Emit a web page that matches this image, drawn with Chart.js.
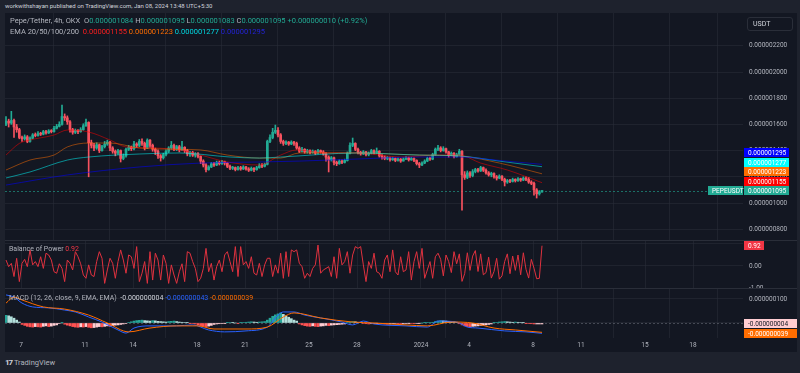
<!DOCTYPE html>
<html>
<head>
<meta charset="utf-8">
<script src="https://cdn.jsdelivr.net/npm/chart.js@4.4.0/dist/chart.umd.min.js"></script>
<style>
body{margin:0;width:800px;height:373px;background:#1e222d;overflow:hidden;position:relative;font-family:Roboto,"Liberation Sans",sans-serif;}
.abs{position:absolute;white-space:nowrap;line-height:8px;font-size:7px;color:#b2b5be;}
canvas{position:absolute;left:5px;}
.sep{position:absolute;left:5px;width:792px;height:1px;background:#2a2e39;}
</style>
</head>
<body>
<div class="abs" style="left:5px;top:2px;font-size:6px;color:#d1d4dc">workwithshayan published on TradingView.com, Jan 08, 2024 13:48 UTC+5:30</div>
<div style="position:absolute;left:5px;top:13px;width:792px;height:339px;background:#131722"></div>

<canvas id="price" width="792" height="227" style="top:13px"></canvas>
<canvas id="bop" width="792" height="48" style="top:240px"></canvas>
<canvas id="macd" width="792" height="64" style="top:288px"></canvas>
<div class="sep" style="top:240px"></div>
<div class="sep" style="top:288px"></div>

<div class="abs" style="left:10px;top:17px;font-size:7.5px">Pepe/Tether, 4h, OKX&nbsp; O<span style="color:#22ab94">0.000001084</span> H<span style="color:#22ab94">0.000001095</span> L<span style="color:#22ab94">0.000001083</span> C<span style="color:#22ab94">0.000001095</span> <span style="color:#22ab94">+0.000000010 (+0.92%)</span></div>
<div class="abs" style="left:10px;top:28px;font-size:7.5px">EMA 20/50/100/200&nbsp; <span style="color:#ff1f1f">0.000001155</span> <span style="color:#ff6d00">0.000001223</span> <span style="color:#00d8e0">0.000001277</span> <span style="color:#2323d8">0.000001295</span></div>
<div class="abs" style="left:9px;top:245px">Balance of Power <span style="color:#f23645">0.92</span></div>
<div class="abs" style="left:9px;top:294px">MACD (12, 26, close, 9, EMA, EMA)&nbsp; <span style="color:#d1d4dc">-0.000000004</span> <span style="color:#2962ff">-0.000000043</span> <span style="color:#ff6d00">-0.000000039</span></div>
<div class="abs" style="left:747px;top:17px;width:39px;height:12px;line-height:12px;border:1px solid #2a2e39;border-radius:3px;padding-left:5px;color:#d1d4dc">USDT</div>
<div class="abs" style="left:5px;top:359px;font-size:7.5px;color:#b2b5be"><b style="color:#d1d4dc;font-size:8px;letter-spacing:-1px">17</b> TradingView</div>

<script>
// PEPE/USDT 4h candles (OKX). prices in 1e-9 USDT
const tickDays   = [0, 4, 7, 11, 14, 18, 21, 25, 28, 32, 35, 39, 42]; // days after Dec 7 00:00
const tickLabels = ['7', '11', '14', '18', '21', '25', '28', '2024', '4', '8', '11', '15', '18'];
const priceTicks = [800, 1000, 1200, 1400, 1600, 1800, 2000, 2200];
const bopTicks = [-1, 0, 1];
const macdTicks = [0, 100];

const firstCandleDay = -0.9375;   // Dec 6 01:30
const candleDays = 4 / 24;

const firstOpen = 1600;
const closes = [
  1625,1610,1630,1580,1560,1500,1490,1505,1470,1495,
  1520,1515,1530,1525,1545,1535,1550,1545,1570,1585,
  1600,1660,1650,1620,1560,1540,1555,1545,1560,1590,
  1615,1460,1440,1420,1445,1400,1430,1450,1465,1420,
  1395,1380,1400,1340,1360,1410,1425,1415,1450,1440,
  1470,1455,1420,1480,1440,1410,1395,1360,1345,1370,
  1395,1420,1440,1410,1430,1405,1425,1400,1375,1385,
  1365,1375,1355,1320,1290,1255,1275,1300,1290,1310,
  1300,1315,1305,1280,1265,1270,1255,1270,1260,1275,
  1260,1250,1265,1255,1270,1285,1280,1295,1470,1500,
  1540,1555,1520,1470,1455,1465,1450,1465,1455,1420,
  1395,1410,1390,1400,1385,1395,1380,1400,1390,1375,
  1350,1330,1345,1310,1300,1320,1310,1325,1380,1440,
  1455,1410,1385,1375,1390,1370,1380,1400,1385,1395,
  1360,1350,1340,1345,1330,1340,1325,1335,1320,1335,
  1345,1330,1340,1325,1300,1290,1305,1320,1340,1335,
  1370,1410,1420,1400,1415,1390,1365,1380,1355,1370,
  1395,1215,1195,1230,1210,1240,1255,1245,1270,1250,
  1230,1215,1225,1200,1190,1205,1180,1160,1170,1165,
  1180,1170,1185,1175,1190,1180,1160,1150,1100,1070,
  1084,1095
];
const highs = [
  1660,1640,1700,1640,1600,1570,1510,1520,1515,1505,
  1530,1535,1545,1540,1555,1555,1560,1560,1585,1600,
  1620,1748,1680,1665,1630,1570,1565,1560,1575,1605,
  1640,1620,1480,1455,1460,1450,1440,1470,1480,1470,
  1430,1405,1410,1405,1375,1420,1440,1435,1470,1460,
  1485,1490,1465,1490,1485,1450,1420,1405,1370,1380,
  1405,1430,1470,1450,1440,1440,1470,1430,1410,1395,
  1395,1385,1385,1360,1330,1300,1285,1310,1310,1320,
  1320,1325,1320,1310,1290,1280,1275,1280,1280,1285,
  1280,1270,1275,1270,1280,1300,1300,1305,1480,1520,
  1570,1595,1575,1530,1480,1475,1470,1475,1470,1465,
  1430,1425,1415,1410,1405,1405,1400,1410,1405,1400,
  1385,1360,1355,1350,1320,1330,1330,1335,1390,1460,
  1496,1460,1420,1395,1400,1395,1390,1410,1405,1420,
  1400,1370,1360,1355,1350,1350,1345,1345,1340,1345,
  1355,1350,1350,1345,1330,1310,1315,1330,1350,1350,
  1380,1420,1440,1430,1430,1420,1395,1390,1385,1380,
  1410,1400,1240,1245,1240,1255,1265,1265,1280,1275,
  1260,1240,1235,1230,1210,1215,1210,1190,1180,1180,
  1190,1185,1195,1190,1200,1200,1195,1170,1160,1110,
  1095,1095
];
const lows = [
  1590,1580,1600,1500,1540,1490,1470,1480,1460,1465,
  1490,1505,1510,1515,1520,1525,1530,1535,1540,1565,
  1580,1595,1630,1600,1540,1525,1530,1530,1540,1555,
  1585,1200,1420,1400,1410,1385,1395,1420,1440,1400,
  1380,1360,1370,1313,1330,1350,1400,1400,1405,1425,
  1430,1440,1405,1415,1425,1395,1370,1340,1320,1335,
  1360,1385,1410,1400,1400,1390,1400,1385,1360,1355,
  1355,1350,1345,1300,1275,1237,1250,1270,1280,1285,
  1290,1295,1290,1270,1255,1255,1245,1250,1250,1255,
  1250,1240,1245,1240,1250,1265,1270,1275,1290,1460,
  1490,1530,1505,1455,1440,1445,1440,1445,1440,1410,
  1385,1390,1380,1380,1375,1380,1370,1375,1380,1365,
  1320,1237,1320,1290,1285,1295,1300,1305,1320,1375,
  1430,1400,1375,1365,1370,1360,1360,1375,1375,1380,
  1350,1335,1330,1330,1320,1325,1315,1320,1310,1320,
  1330,1320,1325,1315,1290,1270,1285,1300,1315,1325,
  1330,1365,1400,1390,1395,1380,1350,1360,1345,1350,
  1365,945,1180,1185,1195,1200,1230,1235,1240,1240,
  1220,1205,1200,1190,1175,1185,1170,1130,1150,1155,
  1160,1160,1165,1165,1170,1170,1150,1140,1060,1038,
  1060,1083
];

// EMA lines: [candle index, value]
const ema20 = [[0,1366],[5,1455],[9,1481],[18,1519],[23,1557],[31,1542],[39,1481],[45,1428],[55,1420],[65,1405],[73,1366],[83,1313],[95,1290],[103,1366],[109,1405],[120,1382],[132,1382],[148,1351],[162,1366],[170,1366],[178,1305],[188,1252],[201,1155]];
const ema50 = [[0,1252],[9,1328],[18,1366],[23,1428],[31,1458],[39,1458],[50,1420],[65,1410],[73,1405],[83,1366],[95,1343],[103,1343],[110,1382],[132,1382],[155,1366],[170,1359],[185,1305],[201,1223]];
const ema100 = [[0,1191],[9,1237],[23,1328],[31,1351],[50,1374],[65,1382],[84,1351],[95,1343],[103,1351],[132,1382],[155,1366],[170,1359],[185,1320],[201,1277]];
const ema200 = [[0,1137],[23,1214],[50,1275],[73,1305],[95,1313],[110,1320],[132,1336],[155,1351],[170,1351],[185,1325],[201,1295]];

// Balance of Power, one value per candle
const bop = [
  .27,-.03,.12,-.48,.35,-.71,.12,.30,-.03,.73,
  .05,.20,-.03,.42,-.11,.58,.50,.27,-.26,-.33,
  .10,-.11,-.71,.27,.12,-.18,.65,.42,.10,-.41,
  -.56,.05,-.41,-.48,.20,.65,.35,-.79,-.18,.35,
  .12,-.56,.20,.73,.27,-.33,.50,.42,-.11,.88,
  -.71,-.33,.20,-.79,.65,-.64,.58,.27,-.64,.50,
  .12,-.79,.05,-.41,-.79,-.26,.10,-.71,.65,.58,
  .20,-.11,-.71,-.56,-.11,.80,-.26,.12,-.64,-.03,
  .27,-.26,.50,.65,.20,-.26,.88,-.48,.88,.05,
  .20,-.11,.42,-.33,-.41,.12,-.48,.05,.35,.35,
  -.48,.05,-.33,.58,-.56,.65,-.48,.73,.65,.73,
  .12,-.03,-.56,-.33,-.48,-.11,.05,.95,-.33,-.18,
  -.11,-.03,-.48,.42,-.56,.80,.05,.20,.65,-.33,
  .50,.88,.80,.88,.05,-.71,.20,-.11,.58,-.26,
  -.33,-.56,.27,.50,-.26,.73,-.26,-.41,.42,-.26,
  -.18,.65,-.64,.20,.65,-.11,.80,-.56,-.18,.20,
  -.56,.42,.58,.30,-.45,.50,.20,-.30,.65,.10,
  .55,-.70,-.35,.60,-.20,.45,.70,-.25,.55,-.40,
  -.30,.40,-.55,-.25,.35,-.60,-.45,.20,.55,-.35,
  .45,-.20,.50,-.40,.60,-.15,-.55,.30,-.10,-.58,
  -.56,.92
];

// MACD (1e-9): lines [candle index, value], histogram per candle
const macdLine = [[0,117],[3,108],[6,83],[10,67],[16,63],[22,54],[26,46],[31,25],[36,4],[42,-29],[45,-42],[48,-21],[54,-12],[64,-12],[70,-8],[76,-29],[82,-37],[90,-33],[98,-17],[102,33],[104,46],[108,46],[112,33],[118,21],[126,4],[130,-8],[134,8],[138,-4],[150,-12],[158,-17],[162,8],[169,4],[173,-17],[177,-21],[187,-33],[195,-37],[201,-43]];
const signalLine = [[0,83],[3,108],[6,96],[14,67],[22,58],[31,33],[38,0],[46,-37],[54,-21],[64,-12],[72,-12],[78,-25],[90,-25],[98,-17],[104,25],[108,42],[118,21],[130,4],[138,0],[150,-8],[158,-12],[167,4],[175,0],[183,-21],[191,-29],[201,-39]];
const hist = [
  32,30,26,20,12,4,
  -6,-10,-14,-16,-17,-15,-16,-17,-14,-12,-15,-13,-10,-8,
  -2,1,
  -5,-9,-12,-15,-17,-18,-16,-17,-15,-18,-20,-19,-17,-15,-16,-14,-12,-14,-11,-9,
  -8,-6,-4,-2,2,5,
  8,10,11,12,10,9,8,10,9,7,6,5,4,6,7,8,6,4,
  3,2,1,-1,-2,-4,
  -8,-11,-14,-15,-13,-10,
  -6,-4,-3,-2,-1,1,2,1,0,-1,1,
  2,3,4,5,4,3,4,5,6,
  12,20,28,34,38,42,36,
  30,24,18,12,8,
  -4,-8,-11,-13,-14,-12,-14,-15,-13,-12,-10,-11,-9,-8,-7,-6,-5,-4,
  2,4,6,5,3,2,
  -2,-3,-4,-3,-2,-1,-2,-3,-4,-5,-4,-3,-2,-3,-4,-3,-2,-1,-2,-3,-2,-1,0,1,2,2,
  3,6,8,10,9,8,7,6,5,3,
  -3,-8,-12,-15,-16,-14,-13,-12,-10,-9,-8,-6,-4,
  1,2,4,5,6,5,4,3,4,3,2,1,
  -1,-2,-3,-4,-4,-4,-4
];

const UP = '#22ab94', DOWN = '#f7525f';
const gridColor = 'rgba(42,46,57,0.55)';
const FONT = 'Roboto, "Liberation Sans", sans-serif';
Chart.defaults.font.family = FONT;
Chart.defaults.color = '#b2b5be';

const t = i => firstCandleDay + i * candleDays;
const opens = [firstOpen].concat(closes.slice(0, -1));
const last = closes.length - 1;
const fmt = v => (v * 1e-9).toFixed(9);
const pts = arr => arr.map(p => ({x: t(p[0]), y: p[1]}));

function noPad(s) { s.paddingTop = 0; s.paddingBottom = 0; s.paddingLeft = 0; s.paddingRight = 0; }

function xAxis(showLabels) {
  return {
    type: 'linear', min: -1, max: 45.125, offset: false,
    afterBuildTicks: s => { s.ticks = tickDays.map(v => ({value: v})); },
    ticks: { display: showLabels, autoSkip: false, maxRotation: 0, padding: 3,
             font: {size: 6.5}, callback: v => tickLabels[tickDays.indexOf(v)] },
    grid: { color: gridColor, drawTicks: false },
    border: { display: false },
    afterFit: s => { s.height = showLabels ? 14 : 0; noPad(s); }
  };
}
function yAxis(min, max, ticks, label) {
  return {
    position: 'right', min: min, max: max,
    afterBuildTicks: s => { s.ticks = ticks.map(v => ({value: v})); },
    ticks: { padding: 6, font: {size: 6.5}, callback: label },
    grid: { color: gridColor, drawTicks: false },
    border: { display: false },
    afterFit: s => { s.width = 54; noPad(s); }
  };
}
function tag(ctx, x, yc, w, bg, fg, text) {
  ctx.fillStyle = bg;
  ctx.fillRect(x, Math.round(yc - 4.5), w, 9);
  ctx.fillStyle = fg;
  ctx.font = '6.5px ' + FONT;
  ctx.textAlign = 'left';
  ctx.textBaseline = 'middle';
  ctx.fillText(text, x + 4, Math.round(yc - 4.5) + 5);
}
const base = {
  responsive: false, animation: false, events: [],
  layout: { padding: 0 },
  plugins: { legend: {display: false}, tooltip: {enabled: false} }
};

// ---- price pane
const lastPriceLine = {
  id: 'lastPriceLine',
  beforeDatasetsDraw(chart) {
    const {ctx, chartArea} = chart;
    const y = Math.round(chart.scales.y.getPixelForValue(closes[last])) + 0.5;
    ctx.save();
    ctx.strokeStyle = 'rgba(34,171,148,0.6)';
    ctx.setLineDash([2, 2]);
    ctx.beginPath(); ctx.moveTo(chartArea.left, y); ctx.lineTo(chartArea.right, y); ctx.stroke();
    ctx.restore();
  },
  afterDraw(chart) {
    const {ctx, chartArea} = chart;
    const y = chart.scales.y.getPixelForValue(closes[last]);
    const tags = [
      [closes[last], UP],
      [ema20[ema20.length - 1][1], '#ff0000'],
      [ema50[ema50.length - 1][1], '#ff6d00'],
      [ema100[ema100.length - 1][1], '#00ffff'],
      [ema200[ema200.length - 1][1], '#0000ff']
    ];
    ctx.save();
    tags.forEach((g, k) => tag(ctx, chartArea.right + 1, y - k * 9.5, 45, g[1], '#ffffff', fmt(g[0])));
    tag(ctx, chartArea.right - 35, y, 35, UP, '#ffffff', 'PEPEUSDT');
    ctx.restore();
  }
};

new Chart(document.getElementById('price'), {
  type: 'line',
  data: {
    datasets: [
      { type: 'line', data: pts(ema200), borderColor: 'rgba(0,0,255,0.55)', borderWidth: 1, pointRadius: 0, cubicInterpolationMode: 'monotone' },
      { type: 'line', data: pts(ema100), borderColor: 'rgba(0,255,255,0.5)', borderWidth: 1, pointRadius: 0, cubicInterpolationMode: 'monotone' },
      { type: 'line', data: pts(ema50), borderColor: 'rgba(255,109,0,0.5)', borderWidth: 1, pointRadius: 0, cubicInterpolationMode: 'monotone' },
      { type: 'line', data: pts(ema20), borderColor: 'rgba(255,0,0,0.5)', borderWidth: 1, pointRadius: 0, cubicInterpolationMode: 'monotone' },
      { type: 'bar', grouped: false, barThickness: 1,
        data: closes.map((c, i) => ({x: t(i), y: [lows[i], highs[i]]})),
        backgroundColor: closes.map((c, i) => c >= opens[i] ? UP : DOWN) },
      { type: 'bar', grouped: false, barThickness: 2, minBarLength: 1,
        data: closes.map((c, i) => ({x: t(i), y: [opens[i], c]})),
        backgroundColor: closes.map((c, i) => c >= opens[i] ? UP : DOWN) }
    ]
  },
  options: Object.assign({}, base, {
    scales: { x: xAxis(false), y: yAxis(717.6, 2450.4, priceTicks, v => fmt(v)) }
  }),
  plugins: [lastPriceLine]
});

// ---- balance of power pane
new Chart(document.getElementById('bop'), {
  type: 'line',
  data: { datasets: [{
    data: bop.map((v, i) => ({x: t(i), y: v})),
    borderColor: '#e0323f', borderWidth: 1, pointRadius: 0, tension: 0
  }]},
  options: Object.assign({}, base, {
    scales: { x: xAxis(false), y: yAxis(-1, 1.18, bopTicks, v => v.toFixed(2)) }
  }),
  plugins: [{
    id: 'bopTag',
    afterDraw(chart) {
      const y = chart.scales.y.getPixelForValue(bop[bop.length - 1]);
      tag(chart.ctx, chart.chartArea.right + 1, y, 20, '#f23645', '#ffffff', bop[bop.length - 1].toFixed(2));
    }
  }]
});

// ---- MACD pane
const histColors = hist.map((v, i) => {
  const p = i ? hist[i - 1] : v;
  if (v >= 0) return v >= p ? '#26a69a' : '#b2dfdb';
  return v < p ? '#ff5252' : '#ffcdd2';
});
new Chart(document.getElementById('macd'), {
  type: 'line',
  data: { datasets: [
    { type: 'line', data: pts(signalLine), borderColor: '#ff6d00', borderWidth: 1, pointRadius: 0, cubicInterpolationMode: 'monotone' },
    { type: 'line', data: pts(macdLine), borderColor: '#2962ff', borderWidth: 1, pointRadius: 0, cubicInterpolationMode: 'monotone' },
    { type: 'bar', grouped: false, barThickness: 2,
      data: hist.map((v, i) => ({x: t(i), y: v})), backgroundColor: histColors }
  ]},
  options: Object.assign({}, base, {
    scales: { x: xAxis(true), y: yAxis(-62.5, 145.8, macdTicks, v => fmt(v)) }
  }),
  plugins: [{
    id: 'macdZero',
    beforeDatasetsDraw(chart) {
      const {ctx, chartArea} = chart;
      const y = Math.round(chart.scales.y.getPixelForValue(0)) + 0.5;
      ctx.save();
      ctx.strokeStyle = 'rgba(120,123,134,0.5)';
      ctx.setLineDash([2, 2]);
      ctx.beginPath(); ctx.moveTo(chartArea.left, y); ctx.lineTo(chartArea.right, y); ctx.stroke();
      ctx.restore();
    },
    afterDraw(chart) {
      const {ctx, chartArea} = chart;
      const y = chart.scales.y;
      tag(ctx, chartArea.right + 1, y.getPixelForValue(hist[hist.length - 1]), 56, '#ffcdd2', '#131722', fmt(hist[hist.length - 1]));
      const s = signalLine[signalLine.length - 1][1];
      tag(ctx, chartArea.right + 1, y.getPixelForValue(s) + 1, 56, '#ff6d00', '#ffffff', fmt(s));
    }
  }]
});
</script>
</body>
</html>
